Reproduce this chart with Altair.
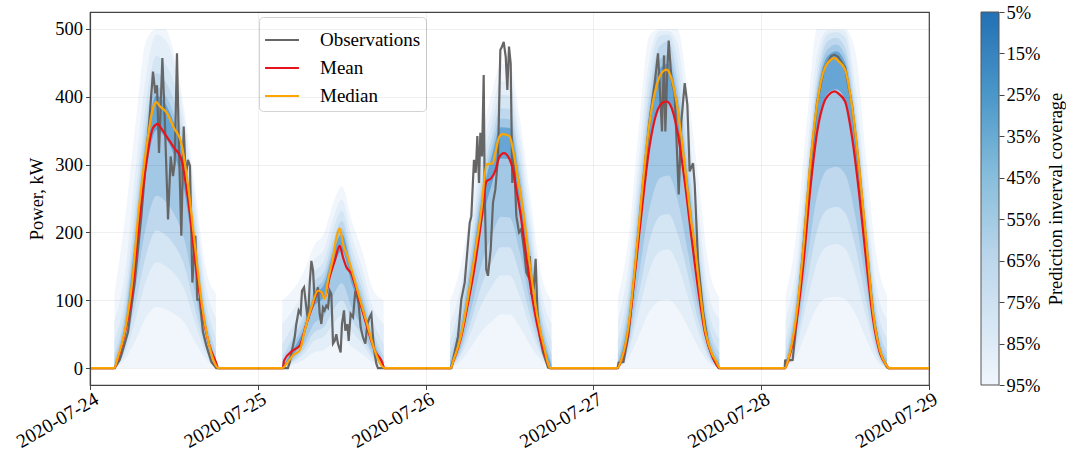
import json
import altair as alt
import pandas as pd

FONT = "Liberation Serif"
FS = 18.5

# ---------------- axis texts ----------------
date_labels = ["2020-07-24", "2020-07-25", "2020-07-26", "2020-07-27", "2020-07-28", "2020-07-29"]
date_ticks = [0, 24, 48, 72, 96, 120]          # hours since 2020-07-24 00:00
power_ticks = [0, 100, 200, 300, 400, 500]
coverage_ticks = [5, 15, 25, 35, 45, 55, 65, 75, 85, 95]

series_names = ["Observations", "Mean", "Median"]
series_colors = ["#666666", "#e8141b", "#ffa500"]

# colour bar gradient (coverage -> colour)
coverage_stops = [5, 25, 45, 65, 85, 95]
coverage_colors = ["#2370b4", "#4a97c9", "#88bedc", "#bdd7ec", "#deebf7", "#f0f6fc"]

# ---------------- prediction interval bands ----------------
band_levels = [95, 80, 65, 50, 35, 20]
band_colors = ["#f1f6fc", "#e3eef8", "#d4e5f4", "#bfd8ee", "#a2c8e5", "#67a5d5"]
band_hours = [3.5, 5, 6.5, 8, 9.5, 10.75, 12, 13.5, 15, 16.5, 18]

lower_95 = [
    [0, 0, 0, 0, 0, 0, 0, 0, 0, 0, 0],
    [0, 0, 0, 0, 0, 0, 0, 0, 0, 0, 0],
    [0, 0, 0, 0, 0, 0, 0, 0, 0, 0, 0],
    [0, 0, 0, 0, 0, 0, 0, 0, 0, 0, 0],
    [0, 0, 0, 0, 0, 0, 0, 0, 0, 0, 0],
]
upper_95 = [
    [110, 220, 360, 482, 500, 500, 465, 380, 268, 150, 110],
    [100, 115, 140, 180, 200, 242, 268, 215, 170, 115, 100],
    [100, 150, 240, 340, 407, 448, 447, 367, 250, 140, 100],
    [105, 190, 355, 490, 500, 500, 500, 410, 280, 150, 105],
    [107, 195, 360, 500, 500, 500, 500, 465, 310, 165, 107],
]
lower_80 = [
    [0, 13, 41, 74, 90, 87, 80, 67, 39, 14, 0],
    [0, 5, 12, 23, 27, 37, 44, 31, 20, 8, 0],
    [0, 10, 31, 54, 69, 79, 79, 60, 33, 12, 0],
    [0, 14, 48, 83, 99, 101, 89, 61, 31, 8, 0],
    [0, 17, 55, 90, 104, 105, 101, 79, 44, 12, 0],
]
upper_80 = [
    [70, 140, 290, 430, 492, 485, 452, 365, 250, 125, 74],
    [65, 85, 112, 158, 176, 220, 248, 192, 145, 88, 65],
    [65, 120, 213, 315, 382, 423, 422, 342, 225, 115, 65],
    [70, 150, 310, 455, 497, 497, 480, 365, 235, 110, 73],
    [70, 150, 310, 462, 498, 499, 497, 415, 262, 120, 73],
]
lower_65 = [
    [0, 22, 72, 128, 156, 151, 140, 116, 68, 24, 0],
    [0, 8, 20, 40, 47, 65, 77, 54, 35, 13, 0],
    [0, 18, 53, 94, 121, 137, 137, 105, 58, 20, 0],
    [0, 24, 84, 144, 172, 175, 154, 106, 54, 14, 0],
    [0, 30, 95, 156, 180, 183, 176, 137, 76, 20, 0],
]
upper_65 = [
    [40, 105, 250, 390, 460, 448, 422, 345, 232, 105, 44],
    [35, 62, 92, 140, 158, 203, 232, 175, 128, 70, 35],
    [40, 98, 193, 295, 362, 403, 402, 322, 205, 96, 40],
    [40, 120, 280, 430, 490, 492, 455, 335, 205, 85, 43],
    [40, 125, 285, 437, 492, 495, 487, 390, 237, 95, 43],
]
lower_50 = [
    [0, 29, 94, 166, 203, 197, 182, 151, 88, 31, 0],
    [0, 10, 26, 52, 61, 85, 100, 70, 46, 17, 0],
    [0, 23, 69, 122, 157, 178, 178, 136, 75, 26, 0],
    [0, 31, 109, 187, 224, 227, 200, 138, 70, 18, 0],
    [0, 39, 123, 203, 234, 238, 229, 178, 99, 26, 0],
]
upper_50 = [
    [20, 85, 225, 365, 435, 423, 395, 328, 212, 88, 24],
    [15, 45, 75, 125, 143, 188, 217, 160, 113, 55, 17],
    [20, 80, 173, 275, 342, 383, 382, 302, 185, 80, 20],
    [20, 100, 255, 405, 475, 482, 430, 310, 180, 65, 23],
    [20, 108, 270, 422, 482, 487, 472, 375, 222, 78, 23],
]
lower_35 = [
    [0, 36, 117, 208, 254, 246, 228, 189, 111, 39, 0],
    [0, 13, 33, 65, 77, 106, 125, 88, 57, 21, 0],
    [0, 29, 86, 153, 196, 223, 222, 170, 94, 33, 0],
    [0, 39, 137, 234, 280, 284, 250, 172, 88, 23, 0],
    [0, 49, 154, 254, 293, 297, 286, 222, 124, 33, 0],
]
upper_35 = [
    [10, 73, 205, 345, 415, 403, 375, 312, 193, 76, 14],
    [8, 34, 64, 114, 132, 177, 206, 149, 102, 45, 10],
    [10, 66, 158, 260, 327, 368, 367, 287, 170, 68, 10],
    [10, 85, 235, 385, 455, 462, 410, 290, 160, 52, 13],
    [10, 95, 257, 410, 470, 477, 460, 362, 210, 65, 13],
]
lower_20 = [
    [0, 50, 162, 288, 351, 340, 315, 261, 153, 54, 0],
    [0, 18, 45, 90, 106, 147, 173, 122, 79, 30, 0],
    [0, 40, 120, 212, 272, 309, 308, 236, 131, 45, 0],
    [0, 54, 189, 324, 387, 393, 347, 239, 122, 32, 0],
    [0, 68, 213, 351, 405, 411, 396, 308, 171, 45, 0],
]
upper_20 = [
    [4, 63, 192, 332, 402, 390, 362, 302, 182, 68, 8],
    [3, 26, 56, 106, 124, 169, 198, 141, 94, 38, 5],
    [4, 55, 145, 247, 314, 355, 354, 274, 157, 58, 4],
    [4, 72, 222, 372, 442, 449, 397, 277, 147, 42, 7],
    [4, 85, 247, 400, 460, 467, 450, 352, 200, 57, 7],
]

# ---------------- lines (hours of each day, kW) ----------------
median_hours = [
    [3.45, 4, 5, 6, 7, 8, 9, 9.5, 10, 11, 12, 13, 14, 15, 16, 17, 18, 18.3],
    [3.55, 4.08, 5.04, 5.99, 6.7, 7.66, 8.61, 9.09, 9.56, 10.04, 10.76, 11.23, 11.71, 12.19, 12.9, 13.86, 14.81, 15.76, 16.72, 17.67, 18.15],
    [3.6, 4, 5, 6, 7, 8, 8.7, 9.6, 10, 10.5, 11, 12, 12.5, 13, 13.5, 14, 15, 16, 17, 17.8],
    [3.4, 4, 5, 6, 7, 8, 9, 10, 10.5, 11, 12, 13, 14, 14.5, 15, 16, 17, 17.5, 18.1],
    [3.4, 4, 5, 6, 7, 8, 9, 10, 10.5, 11, 12, 13, 14, 15, 16, 17, 18, 18.2],
]
median_values = [
    [0, 16, 55, 124, 236, 320, 383, 392, 386, 376, 354, 334, 271, 182, 94, 36, 4, 0],
    [0, 6, 19, 26, 55, 89, 114, 112, 102, 129, 163, 192, 206, 183, 163, 129, 94, 60, 26, 4, 0],
    [0, 12, 45, 100, 165, 235, 300, 302, 318, 340, 345, 342, 322, 292, 262, 228, 145, 75, 28, 0],
    [0, 12, 60, 155, 265, 360, 415, 438, 440, 432, 385, 305, 215, 182, 135, 55, 20, 11, 0],
    [0, 18, 75, 174, 300, 390, 440, 455, 457, 453, 440, 385, 297, 190, 82, 25, 3, 0],
]
mean_hours = [
    [3.45, 4, 5, 6, 7, 8, 9, 9.7, 10, 11, 12, 13, 14, 15, 16, 17, 18, 18.35],
    [3.6, 3.75, 5.04, 5.99, 6.94, 7.9, 8.61, 9.09, 9.56, 10.28, 11.0, 11.71, 12.19, 12.66, 13.38, 13.86, 14.81, 15.76, 16.72, 17.67, 18.15],
    [3.6, 4, 5, 6, 7, 8, 8.7, 9.4, 10, 10.5, 11.2, 12, 12.5, 13, 13.5, 14, 15, 16, 17, 17.85],
    [3.4, 4, 5, 6, 7, 8, 9, 10, 10.5, 11, 12, 13, 14, 15, 16, 17, 18.1],
    [3.4, 4, 5, 6, 7, 8, 9, 10, 10.5, 11, 12, 13, 14, 15, 16, 17, 18, 18.2],
]
mean_values = [
    [0, 14, 52, 109, 212, 298, 354, 360, 356, 341, 325, 310, 251, 163, 87, 36, 9, 0],
    [0, 11, 26, 33, 65, 94, 114, 111, 104, 134, 158, 180, 163, 149, 139, 124, 90, 56, 26, 11, 0],
    [0, 11, 42, 92, 148, 220, 275, 280, 292, 310, 317, 308, 292, 262, 232, 195, 120, 62, 22, 0],
    [0, 11, 55, 145, 240, 325, 375, 392, 393, 388, 350, 280, 195, 115, 50, 18, 0],
    [0, 16, 65, 150, 262, 348, 392, 406, 408, 405, 393, 340, 258, 160, 72, 22, 3, 0],
]
obs_hours = [
    [3.53, 4.24, 4.48, 5.44, 6.39, 7.34, 8.06, 8.53, 9.01, 9.34, 9.58, 9.87, 10.35, 10.68, 11.16, 11.54, 11.87, 12.11, 12.44, 12.73,
     13.06, 13.4, 13.68, 14.01, 14.3, 14.64, 15.07, 15.35, 15.69, 16.16, 16.64, 17.36, 18.07],
    [4.3, 4.56, 4.8, 5.27, 5.51, 5.85, 6.13, 6.32, 6.61, 6.94, 7.18, 7.42, 7.66, 7.9, 8.13, 8.37, 8.61, 8.85, 9.09, 9.33,
     9.56, 9.8, 10.04, 10.28, 10.52, 10.76, 11.0, 11.23, 11.47, 11.85, 12.04, 12.33, 12.52, 12.81, 13.0, 13.28, 13.62, 13.95, 14.24, 14.43,
     14.71, 15.05, 15.38, 15.67, 16.0, 16.24, 16.48, 16.72, 16.96, 17.19],
    [3.68, 4.64, 5.11, 5.59, 6.31, 6.54, 6.92, 7.17, 7.4, 7.64, 7.83, 8.07, 8.31, 8.45, 8.68, 8.92, 9.31, 9.64, 9.97, 10.36,
     10.69, 10.93, 11.17, 11.46, 11.69, 11.93, 12.17, 12.4, 12.64, 12.98, 13.36, 13.69, 14.07, 14.41, 14.64, 14.89, 15.12, 15.46, 15.74, 15.98,
     16.32, 16.79, 17.51, 17.75],
    [3.45, 3.6, 4.3, 5, 6, 7, 8, 8.76, 9.24, 9.81, 10.1, 10.29, 10.58, 10.77, 11.15, 11.62, 11.86, 12.2, 12.58, 13.06,
     13.44, 13.77, 14.25, 14.49, 14.96, 15.68, 16.39, 17.11, 17.92],
    [3.36, 3.42, 4.5, 5, 6, 7, 8, 9, 10, 10.5, 11, 12, 13, 14, 15, 16, 17, 18, 18.2],
]
obs_values = [
    [0, 12, 19, 53, 126, 224, 312, 371, 437, 405, 417, 317, 457, 371, 219, 312, 283, 302, 464, 322,
     195, 356, 283, 307, 298, 126, 195, 101, 101, 53, 33, 9, 0],
    [0, 8, 21, 45, 65, 85, 80, 114, 119, 89, 70, 124, 158, 144, 100, 109, 119, 80, 65, 89,
     85, 92, 89, 114, 109, 36, 40, 50, 36, 23, 65, 85, 55, 65, 40, 80, 75, 114, 104, 94,
     60, 45, 36, 65, 75, 80, 45, 21, 6, 0],
    [0, 47, 101, 126, 214, 224, 307, 288, 342, 273, 347, 312, 432, 263, 145, 136, 175, 244, 263, 312,
     469, 474, 481, 459, 410, 474, 449, 273, 312, 224, 200, 205, 175, 141, 136, 165, 112, 117, 161, 87,
     47, 23, 1, 0],
    [0, 8, 9, 48, 150, 262, 362, 420, 464, 349, 461, 349, 442, 483, 427, 403, 344, 256, 364, 420,
     388, 290, 302, 271, 158, 84, 36, 14, 0],
    [0, 11, 12, 62, 172, 298, 392, 442, 460, 462, 459, 443, 387, 296, 186, 78, 22, 1, 0],
]

# ---------------- tables ----------------
band_lower = dict(zip(band_levels, [lower_95, lower_80, lower_65, lower_50, lower_35, lower_20]))
band_upper = dict(zip(band_levels, [upper_95, upper_80, upper_65, upper_50, upper_35, upper_20]))

band_rows = []
for lev in band_levels:
    for d in range(5):
        for h, lo, hi in zip(band_hours, band_lower[lev][d], band_upper[lev][d]):
            band_rows.append({"t": 24 * d + h, "lo": lo, "hi": hi, "level": lev, "day": d})
bands = pd.DataFrame(band_rows)


def line_table(hours, values, name):
    rows = [{"t": 0.0, "v": 0.0, "s": name}]
    for d, (hh, vv) in enumerate(zip(hours, values)):
        for h, v in zip(hh, vv):
            rows.append({"t": 24 * d + h, "v": v, "s": name})
    rows.append({"t": 120.0, "v": 0.0, "s": name})
    return pd.DataFrame(rows)


obs_df = line_table(obs_hours, obs_values, "Observations")
mean_df = line_table(mean_hours, mean_values, "Mean")
median_df = line_table(median_hours, median_values, "Median")

# ---------------- encodings ----------------
x_label_expr = json.dumps(date_labels) + "[round(datum.value / 24)]"
X = alt.X(
    "t:Q",
    scale=alt.Scale(domain=[0, 120], nice=False, zero=False),
    axis=alt.Axis(values=date_ticks, labelExpr=x_label_expr, title=None,
                  labelAngle=330, labelAlign="right", labelBaseline="top",
                  labelFontSize=19.5, labelPadding=0, labelOffset=2,
                  labelOverlap=False, labelFlush=False, labelBound=False,
                  grid=True, tickSize=4.5, zindex=1),
)
y_scale = alt.Scale(domain=[-25, 525], nice=False, zero=False)
y_axis = alt.Axis(values=power_ticks, title="Power, kW", grid=True, tickSize=4.5,
                  labelPadding=3, titlePadding=8, zindex=1)

band_scale = alt.Scale(domain=band_levels, range=band_colors)

band_layers = []
for lev in band_levels:
    band_layers.append(
        alt.Chart(bands[bands["level"] == lev])
        .mark_area(interpolate="monotone", strokeWidth=0)
        .encode(
            x=X,
            y=alt.Y("hi:Q", scale=y_scale, axis=y_axis),
            y2="lo:Q",
            fill=alt.Fill("level:O", scale=band_scale, legend=None),
            detail="day:N",
        )
    )

stroke_scale = alt.Scale(domain=series_names, range=series_colors)
legend = alt.Legend(
    title=None, orient="none", legendX=169, legendY=5,
    symbolType="stroke", symbolSize=1150, symbolStrokeWidth=2,
    labelFont=FONT, labelFontSize=FS + 0.5, labelColor="black", labelOffset=20,
    strokeColor="#d3d3d3", fillColor="white", cornerRadius=4, padding=5, rowPadding=0,
)


def line_layer(df, interp):
    return (
        alt.Chart(df)
        .mark_line(strokeWidth=2.2, interpolate=interp)
        .encode(
            x=X,
            y=alt.Y("v:Q", scale=y_scale, axis=y_axis),
            stroke=alt.Stroke("s:N", scale=stroke_scale, legend=legend),
        )
    )


main = alt.layer(
    *band_layers,
    line_layer(obs_df, "linear"),
    line_layer(mean_df, "monotone"),
    line_layer(median_df, "monotone"),
)

# ---------------- colour bar ----------------
cb_df = pd.DataFrame({"lo": [coverage_ticks[0]], "hi": [coverage_ticks[-1]]})
gradient = alt.Gradient(
    gradient="linear",
    stops=[alt.GradientStop(offset=(c - 5) / 90, color=col) for c, col in zip(coverage_stops, coverage_colors)],
    x1=0, x2=0, y1=0, y2=1,
)
colorbar = (
    alt.Chart(cb_df)
    .mark_rect(fill=gradient, stroke="#555555", strokeWidth=1)
    .encode(
        x=alt.value(891),
        x2=alt.value(909),
        y=alt.Y(
            "lo:Q",
            scale=alt.Scale(domain=[5, 95], reverse=True, nice=False, zero=False),
            axis=alt.Axis(orient="right", offset=70, values=coverage_ticks,
                          labelExpr="datum.value + '%'", title="Prediction inverval coverage",
                          titleAngle=270, titleBaseline="top", titlePadding=7,
                          tickSize=5, labelPadding=2, domain=False, grid=False),
        ),
        y2="hi:Q",
    )
)

chart = (
    alt.layer(main, colorbar)
    .resolve_scale(y="independent")
    .properties(width=839, height=373, padding={"left": 12, "top": 3, "right": 0, "bottom": 0})
    .configure(font=FONT)
    .configure_axis(
        labelFont=FONT, titleFont=FONT, labelFontSize=FS, titleFontSize=FS,
        labelColor="black", titleColor="black", titleFontWeight="normal",
        domainColor="#444444", tickColor="#444444", domainWidth=1.2,
        gridColor="#000000", gridOpacity=0.06,
    )
    .configure_view(stroke="#444444", strokeWidth=1.2)
)

chart.save("out.html", embed_options={"renderer": "svg", "actions": False})
